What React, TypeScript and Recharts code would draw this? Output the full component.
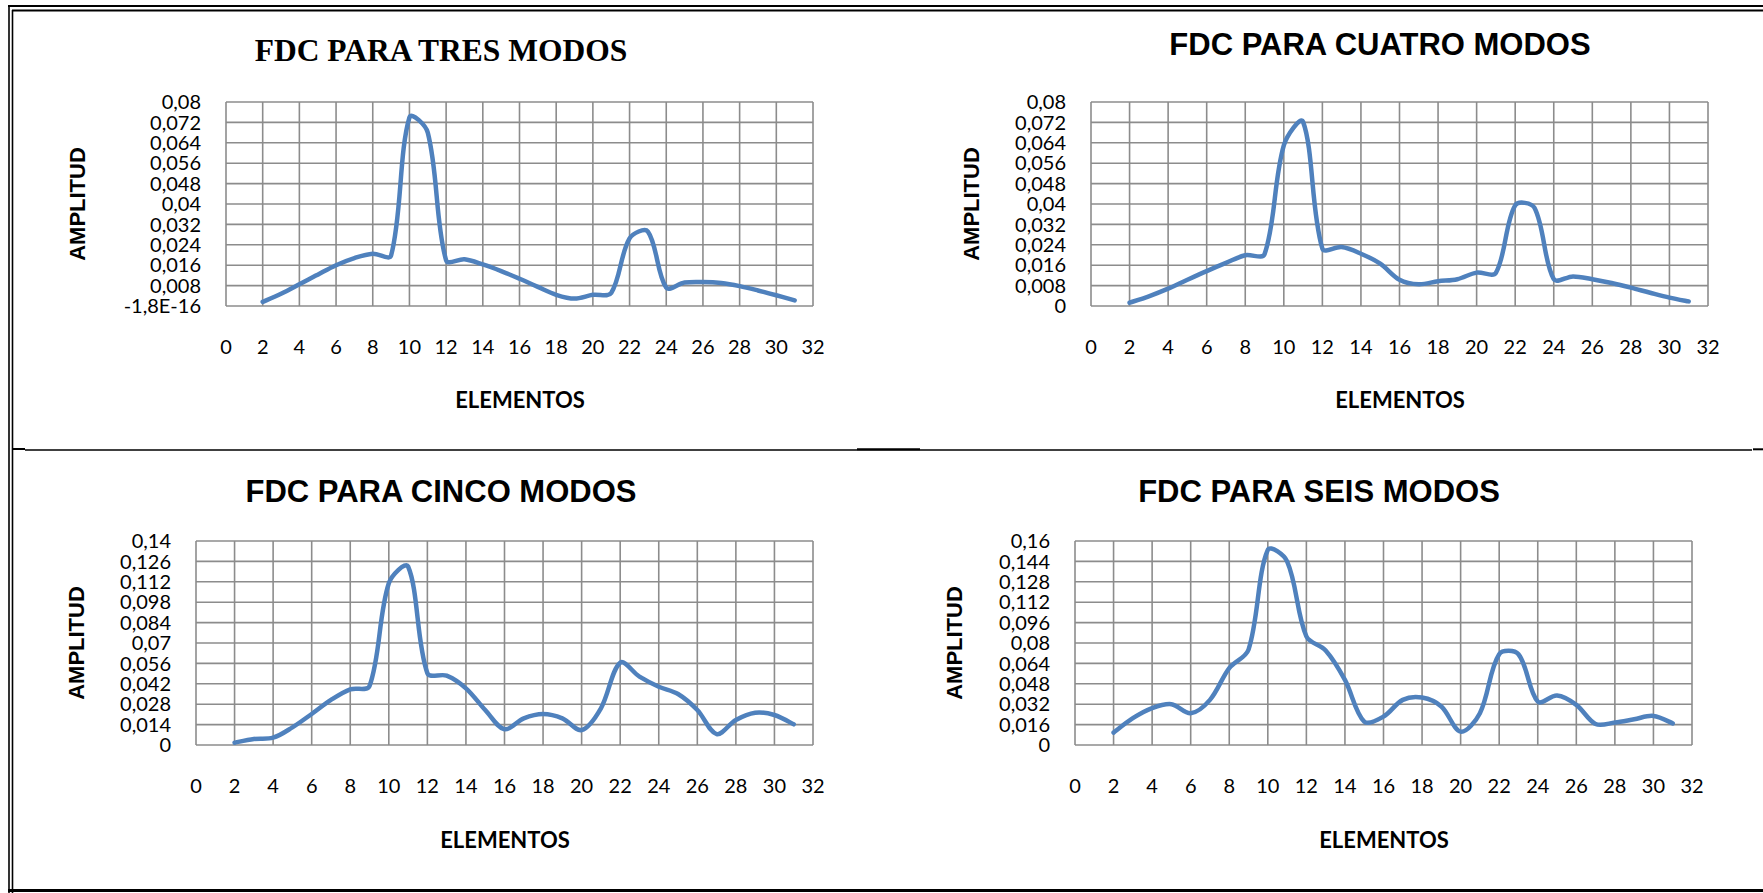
import { CartesianGrid, Line, LineChart, XAxis, YAxis } from 'recharts';

// posiciones de los elementos (eje X)
const elementos = [2, 3, 4, 5, 6, 7, 8, 9, 10, 11, 12, 13, 14, 15, 16, 17, 18, 19, 20, 21, 22, 23, 24, 25, 26, 27, 28, 29, 30, 31];
const xTicks = [0, 2, 4, 6, 8, 10, 12, 14, 16, 18, 20, 22, 24, 26, 28, 30, 32];

const fdcTres = [0.0016, 0.0048, 0.0085, 0.0123, 0.016, 0.0188, 0.0205, 0.0198, 0.074, 0.068, 0.0179, 0.0183, 0.0163, 0.0137, 0.0107, 0.0075, 0.0044, 0.0029, 0.0044, 0.0051, 0.0265, 0.0292, 0.0072, 0.0092, 0.0094, 0.009, 0.0078, 0.0061, 0.0042, 0.0022];
const fdcCuatro = [0.0013, 0.0038, 0.0068, 0.0103, 0.0137, 0.0169, 0.0199, 0.0203, 0.063, 0.0722, 0.0225, 0.0231, 0.0205, 0.0166, 0.0103, 0.0085, 0.0097, 0.0105, 0.0131, 0.013, 0.0395, 0.0385, 0.0105, 0.0116, 0.0105, 0.009, 0.0072, 0.0052, 0.0033, 0.0018];
const fdcCinco = [0.0016, 0.0041, 0.005, 0.0121, 0.0213, 0.0309, 0.0382, 0.0405, 0.111, 0.1225, 0.0492, 0.0476, 0.0389, 0.024, 0.0108, 0.0183, 0.0213, 0.0183, 0.0103, 0.0252, 0.0565, 0.0469, 0.04, 0.035, 0.024, 0.0075, 0.0172, 0.0222, 0.0206, 0.0142];
const fdcSeis = [0.0097, 0.021, 0.0289, 0.032, 0.0249, 0.0354, 0.0603, 0.0748, 0.153, 0.144, 0.0852, 0.0742, 0.0511, 0.0184, 0.0223, 0.0354, 0.0372, 0.0302, 0.0105, 0.0249, 0.0712, 0.0712, 0.0341, 0.0388, 0.0315, 0.0165, 0.0176, 0.0202, 0.0228, 0.017];

// ticks del eje Y y sus etiquetas (coma decimal)
const yTicksTres = [-1.8e-16, 0.008, 0.016, 0.024, 0.032, 0.04, 0.048, 0.056, 0.064, 0.072, 0.08];
const yLabelsTres = ['-1,8E-16', '0,008', '0,016', '0,024', '0,032', '0,04', '0,048', '0,056', '0,064', '0,072', '0,08'];
const yTicksCuatro = [0, 0.008, 0.016, 0.024, 0.032, 0.04, 0.048, 0.056, 0.064, 0.072, 0.08];
const yLabelsCuatro = ['0', '0,008', '0,016', '0,024', '0,032', '0,04', '0,048', '0,056', '0,064', '0,072', '0,08'];
const yTicksCinco = [0, 0.014, 0.028, 0.042, 0.056, 0.07, 0.084, 0.098, 0.112, 0.126, 0.14];
const yLabelsCinco = ['0', '0,014', '0,028', '0,042', '0,056', '0,07', '0,084', '0,098', '0,112', '0,126', '0,14'];
const yTicksSeis = [0, 0.016, 0.032, 0.048, 0.064, 0.08, 0.096, 0.112, 0.128, 0.144, 0.16];
const yLabelsSeis = ['0', '0,016', '0,032', '0,048', '0,064', '0,08', '0,096', '0,112', '0,128', '0,144', '0,16'];

const BLUE = '#4f81bd';
const GRID = '#8c8c8c';
const tickStyle = { fill: '#000', fontSize: 20, fontFamily: 'Lato, "Open Sans", sans-serif' };
const boldSans = '"Liberation Sans", Arial, sans-serif';

// suavizado tipo Excel: Bezier con tangentes ponderadas por la longitud de cada tramo
function excelSmooth(context: any) {
  let pts: number[][] = [];
  const dist = (a: number[], b: number[]) => Math.hypot(b[0] - a[0], b[1] - a[1]);
  return {
    areaStart() {},
    areaEnd() {},
    lineStart() {
      pts = [];
    },
    point(x: number, y: number) {
      pts.push([+x, +y]);
    },
    lineEnd() {
      if (!pts.length) return;
      context.moveTo(pts[0][0], pts[0][1]);
      for (let i = 0; i < pts.length - 1; i++) {
        const p1 = pts[i];
        const p2 = pts[i + 1];
        const d12 = dist(p1, p2) || 1;
        let c1: number[];
        let c2: number[];
        if (i > 0) {
          const p0 = pts[i - 1];
          const f = d12 / (dist(p0, p1) + d12) / 3;
          c1 = [p1[0] + (p2[0] - p0[0]) * f, p1[1] + (p2[1] - p0[1]) * f];
        } else {
          c1 = [p1[0] + (p2[0] - p1[0]) / 6, p1[1] + (p2[1] - p1[1]) / 6];
        }
        if (i + 2 < pts.length) {
          const p3 = pts[i + 2];
          const f = d12 / (dist(p2, p3) + d12) / 3;
          c2 = [p2[0] - (p3[0] - p1[0]) * f, p2[1] - (p3[1] - p1[1]) * f];
        } else {
          c2 = [p2[0] - (p2[0] - p1[0]) / 6, p2[1] - (p2[1] - p1[1]) / 6];
        }
        context.bezierCurveTo(c1[0], c1[1], c2[0], c2[1], p2[0], p2[1]);
      }
    },
  };
}

function Panel({ left, top, plotW, plotH, values, yTicks, yLabels }) {
  const data = elementos.map((x, i) => ({ x, y: values[i] }));
  const fmt = (v: number) => {
    let best = 0;
    yTicks.forEach((t, i) => {
      if (Math.abs(t - v) < Math.abs(yTicks[best] - v)) best = i;
    });
    return yLabels[best];
  };
  return (
    <div style={{ position: 'absolute', left: left - 150, top: top - 20 }}>
      <LineChart width={150 + plotW + 20} height={20 + plotH + 60} data={data} margin={{ top: 20, right: 20, bottom: 0, left: 0 }}>
        <CartesianGrid stroke={GRID} strokeWidth={1.6} />
        <XAxis
          type="number"
          dataKey="x"
          domain={[0, 32]}
          ticks={xTicks}
          interval={0}
          height={60}
          axisLine={false}
          tickLine={false}
          tickSize={0}
          tickMargin={34}
          tick={tickStyle}
          allowDataOverflow
        />
        <YAxis
          type="number"
          domain={[yTicks[0], yTicks[yTicks.length - 1]]}
          ticks={yTicks}
          interval={0}
          width={150}
          axisLine={false}
          tickLine={false}
          tickSize={0}
          tickMargin={25}
          tick={tickStyle}
          tickFormatter={fmt}
          allowDataOverflow
        />
        <Line
          dataKey="y"
          type={excelSmooth as any}
          stroke={BLUE}
          strokeWidth={4.5}
          strokeLinecap="round"
          strokeLinejoin="round"
          dot={false}
          activeDot={false}
          isAnimationActive={false}
        />
      </LineChart>
    </div>
  );
}

function Amplitud({ cx, cy }) {
  return (
    <text x={cx} y={cy} transform={`rotate(-90 ${cx} ${cy})`} textAnchor="middle" dominantBaseline="central" fontFamily={boldSans} fontWeight="bold" fontSize={22}>
      AMPLITUD
    </text>
  );
}

function Elementos({ cx, y }) {
  return (
    <text x={cx} y={y} textAnchor="middle" fontFamily='Lato, "Open Sans", sans-serif' fontWeight="bold" fontSize={22}>
      ELEMENTOS
    </text>
  );
}

export default function App() {
  return (
    <div style={{ position: 'absolute', left: 0, top: 0, width: 1763, height: 893, background: '#fff', overflow: 'hidden' }}>
      <svg width={1763} height={893} style={{ position: 'absolute', left: 0, top: 0 }}>
        {/* marco doble */}
        <line x1={8} y1={6} x2={1763} y2={6} stroke="#000" strokeWidth={2} />
        <line x1={12} y1={10.5} x2={1763} y2={10.5} stroke="#000" strokeWidth={2} />
        <line x1={9} y1={5} x2={9} y2={893} stroke="#000" strokeWidth={1.6} />
        <line x1={12.5} y1={10} x2={12.5} y2={893} stroke="#000" strokeWidth={1.6} />
        <line x1={25} y1={450} x2={1752} y2={450} stroke="#000" strokeWidth={1.3} />
        <line x1={13} y1={449} x2={25} y2={449} stroke="#000" strokeWidth={2} />
        <line x1={857} y1={449.3} x2={920} y2={449.3} stroke="#000" strokeWidth={2} />
        <line x1={1753} y1={449.3} x2={1763} y2={449.3} stroke="#000" strokeWidth={2} />
        <line x1={8} y1={890.5} x2={1763} y2={890.5} stroke="#000" strokeWidth={3} />

        <text x={441} y={61} textAnchor="middle" fontFamily='"Liberation Serif", "Times New Roman", serif' fontWeight="bold" fontSize={31.5}>
          FDC PARA TRES MODOS
        </text>
        <text x={1380} y={55} textAnchor="middle" fontFamily={boldSans} fontWeight="bold" fontSize={31}>
          FDC PARA CUATRO MODOS
        </text>
        <text x={441} y={502} textAnchor="middle" fontFamily={boldSans} fontWeight="bold" fontSize={31}>
          FDC PARA CINCO MODOS
        </text>
        <text x={1319} y={502} textAnchor="middle" fontFamily={boldSans} fontWeight="bold" fontSize={31}>
          FDC PARA SEIS MODOS
        </text>

        <Amplitud cx={77} cy={204} />
        <Amplitud cx={971} cy={204} />
        <Amplitud cx={76.5} cy={643} />
        <Amplitud cx={954.5} cy={643} />

        <Elementos cx={520} y={408} />
        <Elementos cx={1400} y={408} />
        <Elementos cx={505} y={848} />
        <Elementos cx={1384} y={848} />
      </svg>

      <Panel left={226} top={102} plotW={587} plotH={204} values={fdcTres} yTicks={yTicksTres} yLabels={yLabelsTres} />
      <Panel left={1091} top={102} plotW={617} plotH={204} values={fdcCuatro} yTicks={yTicksCuatro} yLabels={yLabelsCuatro} />
      <Panel left={196} top={541} plotW={617} plotH={204} values={fdcCinco} yTicks={yTicksCinco} yLabels={yLabelsCinco} />
      <Panel left={1075} top={541} plotW={617} plotH={204} values={fdcSeis} yTicks={yTicksSeis} yLabels={yLabelsSeis} />
    </div>
  );
}
